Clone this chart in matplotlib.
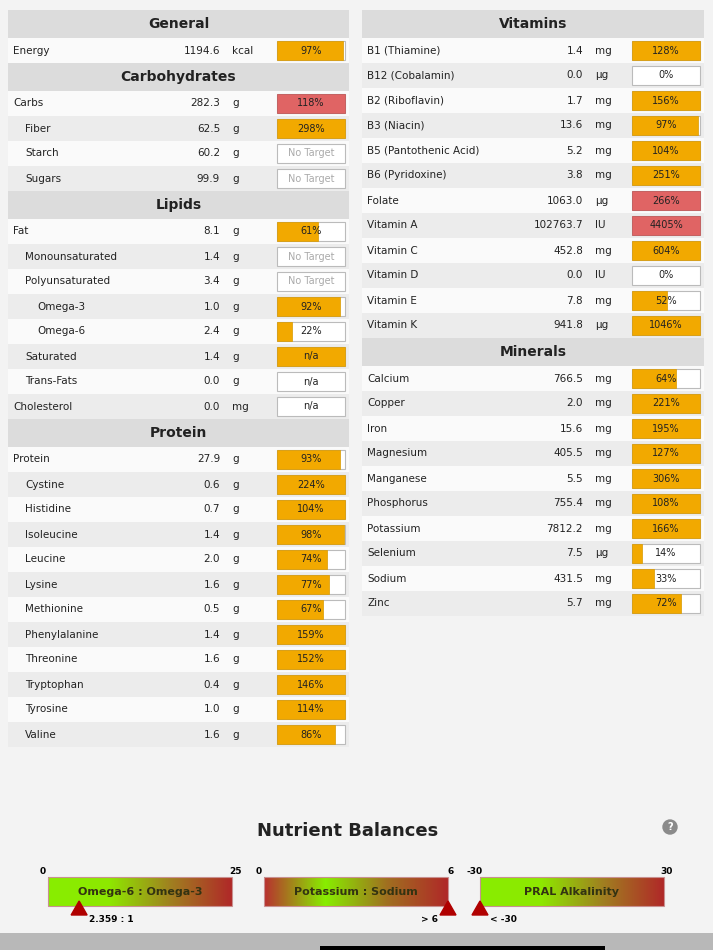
"""Render the nutrient summary table and balance bars as a single PNG."""

from __future__ import annotations

import matplotlib.pyplot as plt
import numpy as np
from matplotlib.colors import LinearSegmentedColormap
from matplotlib.patches import Circle, Polygon, Rectangle

_ORANGE = "#f2a900"
_RED    = "#e06464"
_HEAD   = "#dcdcdc"
_ROW_A  = "#fafafa"
_ROW_B  = "#ececec"

# (name, indent, amount, unit, percent or label, kind)
LEFT = [
    ("General", None),
    ("Energy", 0, "1194.6", "kcal", 97, "ok"),
    ("Carbohydrates", None),
    ("Carbs", 0, "282.3", "g", 118, "over"),
    ("Fiber", 1, "62.5", "g", 298, "ok"),
    ("Starch", 1, "60.2", "g", "No Target", "none"),
    ("Sugars", 1, "99.9", "g", "No Target", "none"),
    ("Lipids", None),
    ("Fat", 0, "8.1", "g", 61, "ok"),
    ("Monounsaturated", 1, "1.4", "g", "No Target", "none"),
    ("Polyunsaturated", 1, "3.4", "g", "No Target", "none"),
    ("Omega-3", 2, "1.0", "g", 92, "ok"),
    ("Omega-6", 2, "2.4", "g", 22, "ok"),
    ("Saturated", 1, "1.4", "g", "n/a", "full"),
    ("Trans-Fats", 1, "0.0", "g", "n/a", "empty"),
    ("Cholesterol", 0, "0.0", "mg", "n/a", "empty"),
    ("Protein", None),
    ("Protein", 0, "27.9", "g", 93, "ok"),
    ("Cystine", 1, "0.6", "g", 224, "ok"),
    ("Histidine", 1, "0.7", "g", 104, "ok"),
    ("Isoleucine", 1, "1.4", "g", 98, "ok"),
    ("Leucine", 1, "2.0", "g", 74, "ok"),
    ("Lysine", 1, "1.6", "g", 77, "ok"),
    ("Methionine", 1, "0.5", "g", 67, "ok"),
    ("Phenylalanine", 1, "1.4", "g", 159, "ok"),
    ("Threonine", 1, "1.6", "g", 152, "ok"),
    ("Tryptophan", 1, "0.4", "g", 146, "ok"),
    ("Tyrosine", 1, "1.0", "g", 114, "ok"),
    ("Valine", 1, "1.6", "g", 86, "ok"),
]

RIGHT = [
    ("Vitamins", None),
    ("B1 (Thiamine)", 0, "1.4", "mg", 128, "ok"),
    ("B12 (Cobalamin)", 0, "0.0", "µg", 0, "ok"),
    ("B2 (Riboflavin)", 0, "1.7", "mg", 156, "ok"),
    ("B3 (Niacin)", 0, "13.6", "mg", 97, "ok"),
    ("B5 (Pantothenic Acid)", 0, "5.2", "mg", 104, "ok"),
    ("B6 (Pyridoxine)", 0, "3.8", "mg", 251, "ok"),
    ("Folate", 0, "1063.0", "µg", 266, "over"),
    ("Vitamin A", 0, "102763.7", "IU", 4405, "over"),
    ("Vitamin C", 0, "452.8", "mg", 604, "ok"),
    ("Vitamin D", 0, "0.0", "IU", 0, "ok"),
    ("Vitamin E", 0, "7.8", "mg", 52, "ok"),
    ("Vitamin K", 0, "941.8", "µg", 1046, "ok"),
    ("Minerals", None),
    ("Calcium", 0, "766.5", "mg", 64, "ok"),
    ("Copper", 0, "2.0", "mg", 221, "ok"),
    ("Iron", 0, "15.6", "mg", 195, "ok"),
    ("Magnesium", 0, "405.5", "mg", 127, "ok"),
    ("Manganese", 0, "5.5", "mg", 306, "ok"),
    ("Phosphorus", 0, "755.4", "mg", 108, "ok"),
    ("Potassium", 0, "7812.2", "mg", 166, "ok"),
    ("Selenium", 0, "7.5", "µg", 14, "ok"),
    ("Sodium", 0, "431.5", "mg", 33, "ok"),
    ("Zinc", 0, "5.7", "mg", 72, "ok"),
]

# (title, lo, hi, marker position, marker label, gradient stops)
BALANCES = [
    ("Omega-6 : Omega-3", "0", "25", 0.09, "2.359 : 1",
     ["#88ee00", "#8ee800", "#a08020", "#b02828"]),
    ("Potassium : Sodium", "0", "6", 1.0, "> 6",
     ["#b83030", "#88ee00", "#a07020", "#b02828"]),
    ("PRAL Alkalinity", "-30", "30", 0.0, "< -30",
     ["#88ee00", "#8ee800", "#a08020", "#b02828"]),
]


def _draw_table(ax, rows, x0, x1, value_x, unit_x) -> None:
    y = 10
    stripe = 0
    for row in rows:
        if row[1] is None:
            ax.add_patch(Rectangle((x0, y), x1 - x0, 28, color=_HEAD, lw=0))
            ax.text((x0 + x1) / 2, y + 14, row[0], ha="center", va="center",
                    fontsize=10, fontweight="bold", color="#222222")
            y += 28
            stripe = 0
            continue
        name, indent, amount, unit, pct, kind = row
        ax.add_patch(Rectangle((x0, y), x1 - x0, 25,
                               color=_ROW_A if stripe % 2 == 0 else _ROW_B, lw=0))
        stripe += 1
        cy = y + 12.5
        ax.text(x0 + 5 + 12 * indent, cy, name, va="center", fontsize=7.5, color="#222222")
        ax.text(value_x, cy, amount, ha="right", va="center", fontsize=7.5, color="#222222")
        ax.text(unit_x, cy, unit, va="center", fontsize=7.5, color="#222222")

        bx, bw, by, bh = x1 - 72, 68, y + 3, 19
        ax.add_patch(Rectangle((bx, by), bw, bh, facecolor="white",
                               edgecolor="#bbbbbb", lw=0.8))
        if kind == "none":
            ax.text(bx + bw / 2, cy, pct, ha="center", va="center", fontsize=7, color="#aaaaaa")
            y += 25
            continue
        if kind in ("ok", "over"):
            frac = min(pct, 100) / 100
            label = f"{pct}%"
        else:
            frac = 1.0 if kind == "full" else 0.0
            label = pct
        color = _RED if kind == "over" else _ORANGE
        if frac > 0:
            ax.add_patch(Rectangle((bx, by), bw * frac, bh, facecolor=color,
                                   edgecolor="#d89a00" if kind != "over" else "#c05050", lw=0.5))
        ax.text(bx + bw / 2, cy, label, ha="center", va="center", fontsize=7, color="#222222")
        y += 25


def _draw_balances(ax) -> None:
    ax.text(348, 831, "Nutrient Balances", ha="center", va="center",
            fontsize=13, fontweight="bold", color="#222222")
    ax.add_patch(Circle((670, 827), 7, color="#8a8a8a"))
    ax.text(670, 827.5, "?", ha="center", va="center", fontsize=7,
            fontweight="bold", color="white")
    for i, (title, lo, hi, pos, mark, stops) in enumerate(BALANCES):
        x0 = 48 + i * 216
        x1 = x0 + 184
        cmap = LinearSegmentedColormap.from_list(title, stops)
        grad = np.linspace(0, 1, 256).reshape(1, -1)
        ax.imshow(grad, cmap=cmap, aspect="auto", extent=(x0, x1, 906, 877), zorder=2)
        ax.add_patch(Rectangle((x0, 877), x1 - x0, 29, fill=False,
                               edgecolor="#c89090", lw=0.8, zorder=3))
        ax.text((x0 + x1) / 2, 892, title, ha="center", va="center", fontsize=8,
                fontweight="bold", color="#333311", zorder=4)
        ax.text(x0 - 5, 871, lo, ha="center", va="center", fontsize=6.5, fontweight="bold")
        ax.text(x1 + 3, 871, hi, ha="center", va="center", fontsize=6.5, fontweight="bold")
        mx = x0 + 16 + pos * (x1 - x0 - 16) if pos < 1 else x1
        if pos == 0:
            mx = x0
        ax.add_patch(Polygon([(mx - 8, 915), (mx + 8, 915), (mx, 901)],
                             color="#b00000", zorder=5))
        ax.text(mx + (10 if pos < 1 else -10), 920, mark, ha="left" if pos < 1 else "right",
                va="center", fontsize=6.5, fontweight="bold")


def main() -> None:
    fig = plt.figure(figsize=(7.13, 9.5), dpi=100)
    fig.patch.set_facecolor("#f3f3f3")
    ax = fig.add_axes([0, 0, 1, 1])
    ax.set_xlim(0, 713)
    ax.set_ylim(950, 0)
    ax.axis("off")

    _draw_table(ax, LEFT, 8, 349, 220, 232)
    _draw_table(ax, RIGHT, 362, 704, 583, 595)
    _draw_balances(ax)

    ax.add_patch(Rectangle((0, 933), 713, 17, color="#b8b8b8", lw=0))
    ax.add_patch(Rectangle((320, 946), 285, 4, color="black", lw=0))

    fig.savefig("out.png", dpi=100, facecolor=fig.get_facecolor())
    plt.close(fig)


if __name__ == "__main__":
    main()
